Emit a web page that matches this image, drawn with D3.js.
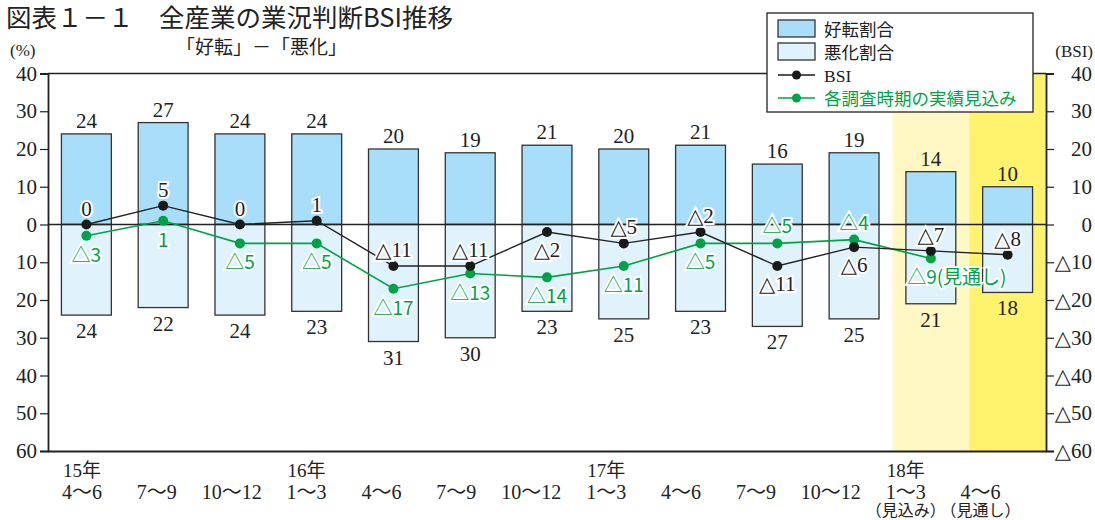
<!DOCTYPE html>
<html>
<head>
<meta charset="utf-8">
<script src="https://cdn.jsdelivr.net/npm/d3@7"></script>
<style>
  body { margin: 0; background: #fff; }
  svg { display: block; }
</style>
</head>
<body>
<div id="chart"></div>
<script>
/* 図表1-1 全産業の業況判断BSI推移 */

// data
const quarters = ["15-4", "15-7", "15-10", "16-1", "16-4", "16-7", "16-10", "17-1", "17-4", "17-7", "17-10", "18-1", "18-4"];
const yearLabels = ["15年", "", "", "16年", "", "", "", "17年", "", "", "", "18年", ""];
const periodLabels = ["4～6", "7～9", "10～12", "1～3", "4～6", "7～9", "10～12", "1～3", "4～6", "7～9", "10～12", "1～3", "4～6"];
const noteLabels = ["", "", "", "", "", "", "", "", "", "", "", "（見込み）", "（見通し）"];
const goodShare = [24, 27, 24, 24, 20, 19, 21, 20, 21, 16, 19, 14, 10];
const badShare = [24, 22, 24, 23, 31, 30, 23, 25, 23, 27, 25, 21, 18];
const bsi = [0, 5, 0, 1, -11, -11, -2, -5, -2, -11, -6, -7, -8];
const bsiLabelSide = ["a", "a", "a", "a", "a", "a", "b", "a", "a", "b", "b", "a", "a"];
const outlook = [-3, 1, -5, -5, -17, -13, -14, -11, -5, -5, -4, -9, null];
const outlookLabelSide = ["b", "b", "b", "b", "b", "b", "b", "b", "b", "a", "a", "b", null];
const yTicks = [40, 30, 20, 10, 0, -10, -20, -30, -40, -50, -60];

const width = 1095, height = 520;
const margin = { top: 73.5, right: 49, bottom: 69, left: 48 };

const serif = "'Liberation Serif', 'DejaVu Serif', 'Noto Sans CJK JP', serif";
const sans = "'Noto Sans CJK JP', 'Noto Sans', sans-serif";
const green = "#00a246";

const fmt = v => v < 0 ? "△" + Math.abs(v) : String(v);

let svg = d3.select("#chart")
    .append("svg")
    .attr("width", width)
    .attr("height", height);

let x = d3.scaleBand()
    .domain(quarters)
    .range([margin.left, width - margin.right])
    .paddingInner(0.35)
    .paddingOuter(0.175);

// category labels sit on a slightly tighter grid than the bars
let xl = d3.scaleBand()
    .domain(quarters)
    .range([44.5, 1018]);

let y = d3.scaleLinear()
    .domain([-60, 40])
    .range([height - margin.bottom, margin.top]);

let cx = d => x(d) + x.bandwidth() / 2;

// yellow shading for forecast quarters
svg.append("rect")
    .attr("x", x(quarters[11]) - x.step() * x.paddingInner() / 2)
    .attr("y", y(40))
    .attr("width", x.step())
    .attr("height", y(-60) - y(40))
    .attr("fill", "#fff8c2");
svg.append("rect")
    .attr("x", x(quarters[12]) - x.step() * x.paddingInner() / 2)
    .attr("y", y(40))
    .attr("width", width - margin.right - (x(quarters[12]) - x.step() * x.paddingInner() / 2))
    .attr("height", y(-60) - y(40))
    .attr("fill", "#fff36e");

// bars
let bar = svg.selectAll(".bar")
    .data(quarters)
    .join("g")
    .attr("class", "bar");

bar.append("rect")
    .attr("x", d => x(d))
    .attr("width", x.bandwidth())
    .attr("y", (d, i) => y(goodShare[i]))
    .attr("height", (d, i) => y(0) - y(goodShare[i]))
    .attr("fill", "#a9defa")
    .attr("stroke", "#333")
    .attr("stroke-width", 1.3);

bar.append("rect")
    .attr("x", d => x(d))
    .attr("width", x.bandwidth())
    .attr("y", y(0))
    .attr("height", (d, i) => y(-badShare[i]) - y(0))
    .attr("fill", "#e0f2fc")
    .attr("stroke", "#333")
    .attr("stroke-width", 1.3);

bar.append("text")
    .text((d, i) => goodShare[i])
    .attr("x", cx)
    .attr("y", (d, i) => y(goodShare[i]) - 6)
    .attr("text-anchor", "middle")
    .style("font-family", serif)
    .style("font-size", "21px")
    .style("fill", "#222");

bar.append("text")
    .text((d, i) => badShare[i])
    .attr("x", cx)
    .attr("y", (d, i) => y(-badShare[i]) + 23)
    .attr("text-anchor", "middle")
    .style("font-family", serif)
    .style("font-size", "21px")
    .style("fill", "#222");

// frame and zero line
svg.append("line")
    .attr("x1", margin.left).attr("x2", width - margin.right)
    .attr("y1", y(40)).attr("y2", y(40))
    .attr("stroke", "#222").attr("stroke-width", 1.3);
svg.append("line")
    .attr("x1", margin.left).attr("x2", width - margin.right)
    .attr("y1", y(0)).attr("y2", y(0))
    .attr("stroke", "#222").attr("stroke-width", 1.3);

// axes
let leftAxis = svg.append("g")
    .attr("transform", `translate(${margin.left},0)`)
    .call(d3.axisLeft(y).tickValues(yTicks).tickSize(8).tickPadding(3)
        .tickFormat(d => Math.abs(d)));

let rightAxis = svg.append("g")
    .attr("transform", `translate(${width - margin.right},0)`)
    .call(d3.axisRight(y).tickValues(yTicks).tickSize(8).tickPadding(2)
        .tickFormat(fmt));

svg.append("g")
    .attr("transform", `translate(0,${y(-60)})`)
    .call(d3.axisBottom(x).tickSize(0).tickFormat(""));

svg.selectAll(".domain").attr("stroke", "#222").attr("stroke-width", 1.8);
svg.selectAll(".tick line").attr("stroke", "#222").attr("stroke-width", 1.2);
leftAxis.selectAll("text")
    .style("font-family", serif).style("font-size", "21px").style("fill", "#222");
rightAxis.selectAll("text")
    .style("font-family", serif).style("font-size", "21px").style("fill", "#222")
    .attr("text-anchor", "end")
    .attr("x", 46);

// category labels
let cat = svg.append("g")
    .selectAll("g")
    .data(quarters)
    .join("g")
    .attr("transform", d => `translate(${xl(d) + xl.bandwidth() / 2},0)`)
    .style("font-family", serif)
    .style("fill", "#222")
    .attr("text-anchor", "middle");

cat.append("text").text((d, i) => yearLabels[i]).attr("y", 477).style("font-size", "19px");
cat.append("text").text((d, i) => periodLabels[i]).attr("y", 499).style("font-size", "20px");
cat.append("text").text((d, i) => noteLabels[i]).attr("y", 516).style("font-size", "16px");

// lines
let line = d3.line()
    .defined(d => d.v !== null)
    .x(d => cx(d.q))
    .y(d => y(d.v));

let outlookData = quarters.map((q, i) => ({ q, v: outlook[i], side: outlookLabelSide[i] }));
let bsiData = quarters.map((q, i) => ({ q, v: bsi[i], side: bsiLabelSide[i] }));

svg.append("path")
    .datum(outlookData)
    .attr("d", line)
    .attr("fill", "none")
    .attr("stroke", green)
    .attr("stroke-width", 1.6);

svg.append("path")
    .datum(bsiData)
    .attr("d", line)
    .attr("fill", "none")
    .attr("stroke", "#222")
    .attr("stroke-width", 1.4);

svg.selectAll(".odot")
    .data(outlookData.filter(d => d.v !== null))
    .join("circle")
    .attr("cx", d => cx(d.q))
    .attr("cy", d => y(d.v))
    .attr("r", 5)
    .attr("fill", green);

svg.selectAll(".bdot")
    .data(bsiData)
    .join("circle")
    .attr("cx", d => cx(d.q))
    .attr("cy", d => y(d.v))
    .attr("r", 5)
    .attr("fill", "#1a1a1a");

// point labels with white halo
svg.selectAll(".blab")
    .data(bsiData)
    .join("text")
    .text(d => fmt(d.v))
    .attr("x", d => cx(d.q))
    .attr("y", d => y(d.v) + (d.side === "a" ? -9 : 25))
    .attr("text-anchor", "middle")
    .style("font-family", serif)
    .style("font-size", "21px")
    .style("fill", "#222")
    .style("stroke", "#fff")
    .style("stroke-width", 4)
    .style("paint-order", "stroke");

svg.selectAll(".olab")
    .data(outlookData.filter(d => d.v !== null))
    .join("text")
    .text((d, i) => fmt(d.v) + (i === 11 ? "(見通し)" : ""))
    .attr("x", (d, i) => cx(d.q) + (i === 11 ? 26 : 0))
    .attr("y", d => y(d.v) + (d.side === "a" ? -10 : 26))
    .attr("text-anchor", "middle")
    .style("font-family", sans)
    .style("font-size", "19px")
    .style("fill", green)
    .style("stroke", "#fff")
    .style("stroke-width", 4)
    .style("paint-order", "stroke");

// titles
svg.append("text")
    .text("図表１－１　全産業の業況判断BSI推移")
    .attr("x", 6).attr("y", 27)
    .style("font-family", sans).style("font-size", "25.5px").style("fill", "#222");
svg.append("text")
    .text("「好転」－「悪化」")
    .attr("x", 176).attr("y", 54)
    .style("font-family", sans).style("font-size", "19px").style("fill", "#222");
svg.append("text")
    .text("(%)")
    .attr("x", 10).attr("y", 56)
    .style("font-family", serif).style("font-size", "17px").style("fill", "#222");
svg.append("text")
    .text("(BSI)")
    .attr("x", 1093).attr("y", 57)
    .attr("text-anchor", "end")
    .style("font-family", serif).style("font-size", "17px").style("fill", "#222");

// legend
let lg = svg.append("g");
lg.append("rect")
    .attr("x", 767).attr("y", 13).attr("width", 266).attr("height", 99)
    .attr("fill", "#fff").attr("stroke", "#222").attr("stroke-width", 1.3);

const legendItems = [
    { label: "好転割合", kind: "rect", fill: "#a9defa", color: "#222" },
    { label: "悪化割合", kind: "rect", fill: "#e0f2fc", color: "#222" },
    { label: "BSI", kind: "line", fill: "#1a1a1a", color: "#222" },
    { label: "各調査時期の実績見込み", kind: "line", fill: green, color: green }
];

let li = lg.selectAll(".li")
    .data(legendItems)
    .join("g")
    .attr("transform", (d, i) => `translate(778,${29 + i * 23})`);

li.filter(d => d.kind === "rect").append("rect")
    .attr("x", 0).attr("y", -9).attr("width", 37).attr("height", 17)
    .attr("fill", d => d.fill).attr("stroke", "#333").attr("stroke-width", 1.3);
li.filter(d => d.kind === "line").append("line")
    .attr("x1", 0).attr("x2", 37).attr("y1", 0).attr("y2", 0)
    .attr("stroke", d => d.fill).attr("stroke-width", 1.5);
li.filter(d => d.kind === "line").append("circle")
    .attr("cx", 18.5).attr("cy", 0).attr("r", 4.5).attr("fill", d => d.fill);
li.append("text")
    .text(d => d.label)
    .attr("x", 46).attr("y", 7)
    .style("font-family", d => d.label === "BSI" ? serif : sans)
    .style("font-size", "17.5px")
    .style("fill", d => d.color);
</script>
</body>
</html>
